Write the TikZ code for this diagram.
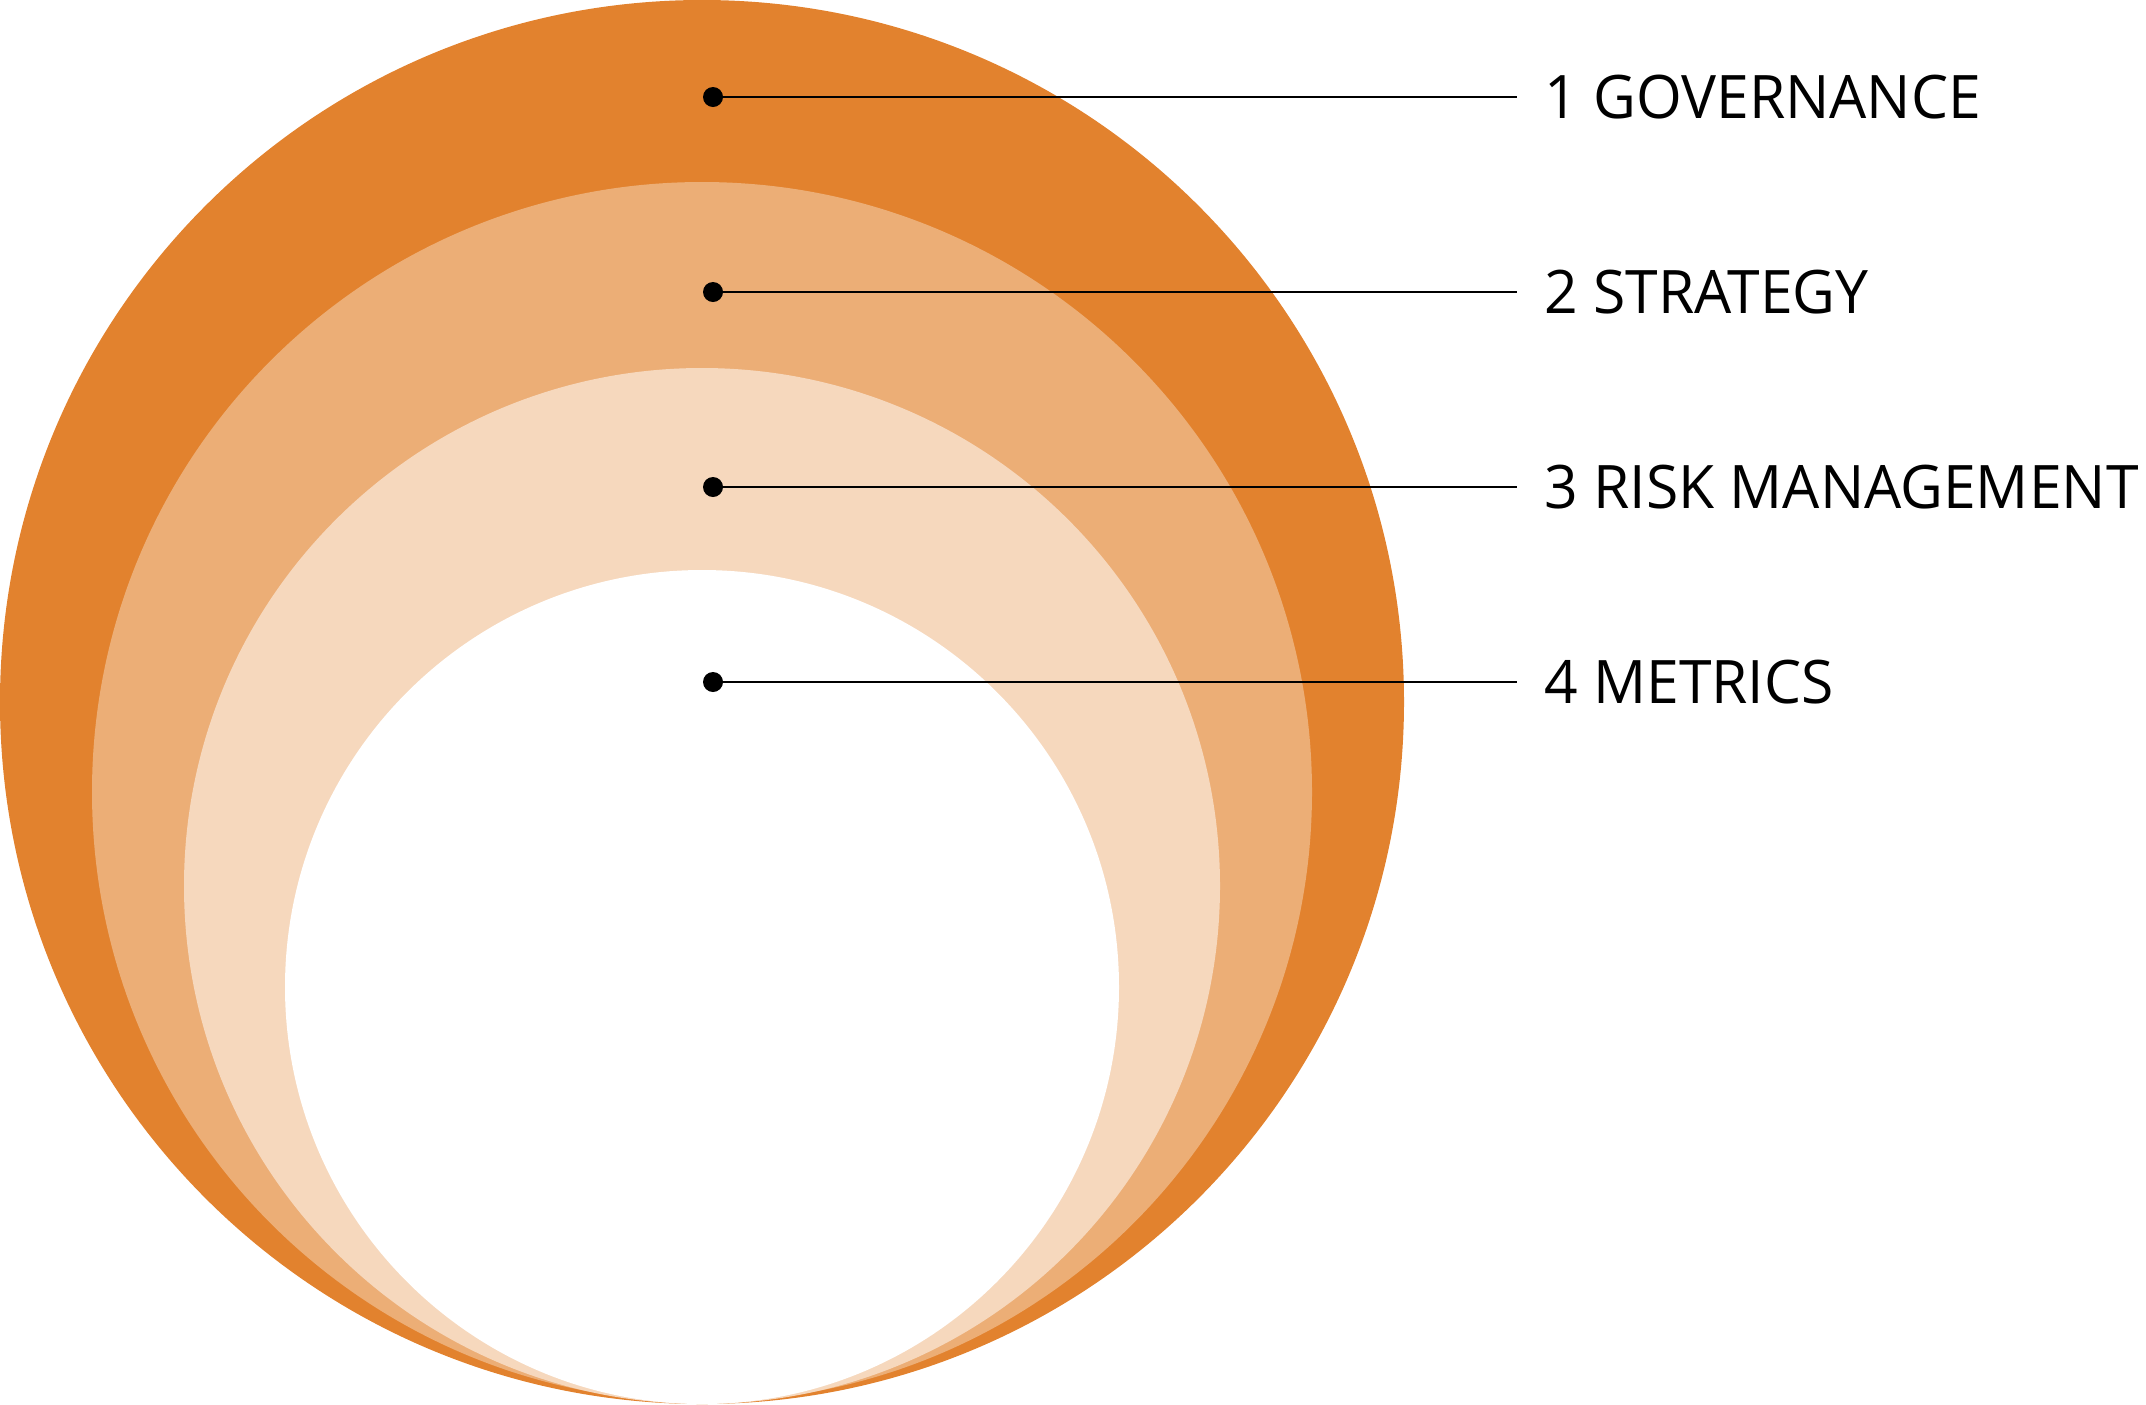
\documentclass[tikz,border=0pt]{standalone}
\usepackage{fontspec}
\setmainfont{Open Sans}[FakeStretch=0.98]
\definecolor{ringA}{RGB}{226,130,46}
\definecolor{ringB}{RGB}{236,174,118}
\definecolor{ringC}{RGB}{246,216,189}
\begin{document}
\begin{tikzpicture}[x=0.5pt,y=-0.5pt,
  ring/.style={fill=#1,draw=none},
  dotmark/.style={circle,fill=black,inner sep=0pt,minimum size=10pt},
  leader/.style={draw=black,line width=1.4pt},
  lbl/.style={anchor=base west,inner sep=0pt,font=\fontsize{30}{36}\selectfont}]
\useasboundingbox (0,0) rectangle (2146,1404);
\fill[ring=ringA] (702,702) circle[radius=702];
\fill[ring=ringB] (702,792) circle[radius=610];
\fill[ring=ringC] (702,886) circle[radius=518];
\fill[ring=white] (702,987) circle[radius=417];
\foreach \i/\y/\t in {1/97/1 GOVERNANCE,2/292/2 STRATEGY,3/487/3 RISK MANAGEMENT,4/682/4 METRICS}{
  \node[dotmark] (d\i) at (713,\y) {};
  \coordinate (e\i) at (1517,\y);
  \node[lbl] (t\i) at (1544,\y+21) {\t};
  \draw[leader] (d\i.center) -- (e\i);
}
\end{tikzpicture}
\end{document}
